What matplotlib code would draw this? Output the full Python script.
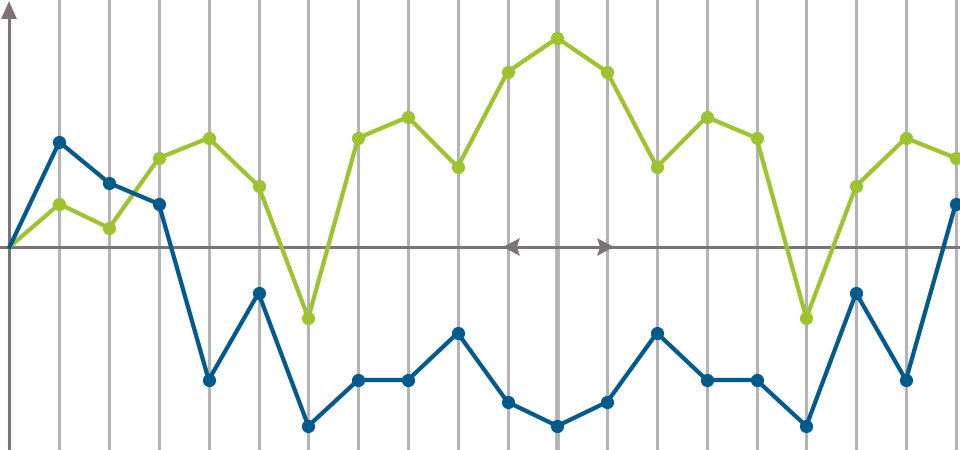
import matplotlib
matplotlib.use("Agg")
import matplotlib.pyplot as plt

# sample index along the x axis
steps = list(range(20))

# values relative to the horizontal axis (pixels above it)
green_vals = [0, 43, 19, 89, 109, 61, -71, 109, 130, 80,
              175, 209, 175, 80, 130, 109, -71, 61, 109, 89]
blue_vals = [0, 105, 64, 43, -133, -46, -179, -133, -133, -86,
             -155, -179, -155, -86, -133, -133, -179, -46, -133, 43]

GREEN = "#9dc42f"
BLUE = "#005a8c"
GRID = "#b4b4b4"
AXIS = "#7b7375"

PX = 49.8  # pixels per step


def px_x(p):
    return (p - 9.5) / PX


def main():
    fig = plt.figure(figsize=(9.6, 4.5), dpi=100)
    ax = fig.add_axes([0, 0, 1, 1])
    ax.set_xlim(px_x(0), px_x(960))
    ax.set_ylim(247 - 450, 247)
    ax.axis("off")

    for s in steps[1:]:
        ax.axvline(s, color=GRID, lw=3.5 if s == 11 else 2.2, zorder=1)

    # axes with arrows
    ax.axhline(0, color=AXIS, lw=2.2, zorder=2)
    ax.plot([px_x(9), px_x(9)], [-210, 247 - 15], color=AXIS, lw=2.2, zorder=2)
    ax.fill([px_x(1), px_x(17), px_x(9)], [247 - 19, 247 - 19, 247 - 1],
            color=AXIS, lw=0, zorder=3)
    ax.fill([px_x(503), px_x(520), px_x(517), px_x(520)], [0, 9, 0, -9],
            color=AXIS, lw=0, zorder=3)
    ax.fill([px_x(614), px_x(597), px_x(600), px_x(597)], [0, 9, 0, -9],
            color=AXIS, lw=0, zorder=3)

    marks = list(range(1, 20))
    ax.plot(steps, green_vals, color=GREEN, lw=3.1, marker="o", ms=8.5,
            markevery=marks, zorder=4, clip_on=False)
    ax.plot(steps, blue_vals, color=BLUE, lw=3.1, marker="o", ms=8.5,
            markevery=marks, zorder=5, clip_on=False)

    fig.savefig("out.png", dpi=100)


if __name__ == '__main__':
    main()
